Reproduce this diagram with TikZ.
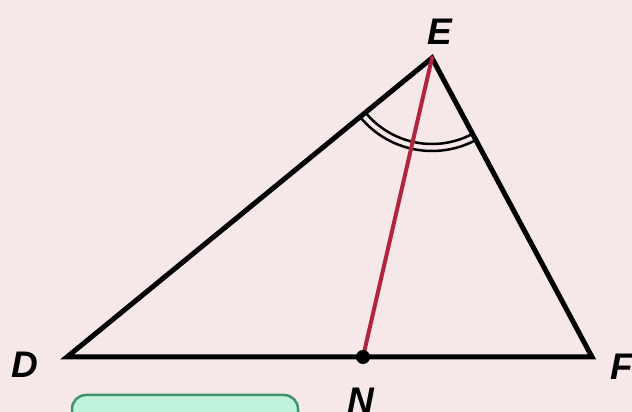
\documentclass[tikz,border=0pt]{standalone}
\usepackage{fontspec}
\setmainfont{Liberation Sans}
\definecolor{bgpink}{HTML}{F6E7E9}
\definecolor{segred}{HTML}{B3253E}
\definecolor{boxfill}{HTML}{BFF3DD}
\definecolor{boxline}{HTML}{3E9467}
\begin{document}
\begin{tikzpicture}[x=1pt,y=1pt,
  side/.style={line width=5pt, line join=miter, line cap=round},
  bisector/.style={segred, line width=4pt, line cap=round},
  anglemark/.style={line width=2.5pt},
  lab/.style={font=\bfseries\itshape\fontsize{37}{37}\selectfont, inner sep=0pt}]
\useasboundingbox (0,0) rectangle (632,412);
\clip (0,0) rectangle (632,412);
\fill[bgpink] (0,0) rectangle (632,412);
% partial green box at the bottom
\draw[boxline, fill=boxfill, line width=2.5pt, rounded corners=14pt] (72,17) rectangle (298,-30);
\coordinate (D) at (67,55);
\coordinate (E) at (432,354);
\coordinate (F) at (592,55);
\coordinate (N) at (363,55);
\draw[side] (D) -- (E) -- (F) -- cycle;
\draw[anglemark] ([shift={(219.3:86)}]E) arc[start angle=219.3, end angle=298.2, radius=86];
\draw[anglemark] ([shift={(219.3:93)}]E) arc[start angle=219.3, end angle=298.2, radius=93];
\draw[bisector] (E) -- (N);
\fill (N) circle[radius=7];
\node[lab] (lE) at (440,380) {E};
\node[lab] (lD) at (25,47) {D};
\node[lab] (lF) at (622,45) {F};
\node[lab] (lN) at (361,11) {N};
\end{tikzpicture}
\end{document}
